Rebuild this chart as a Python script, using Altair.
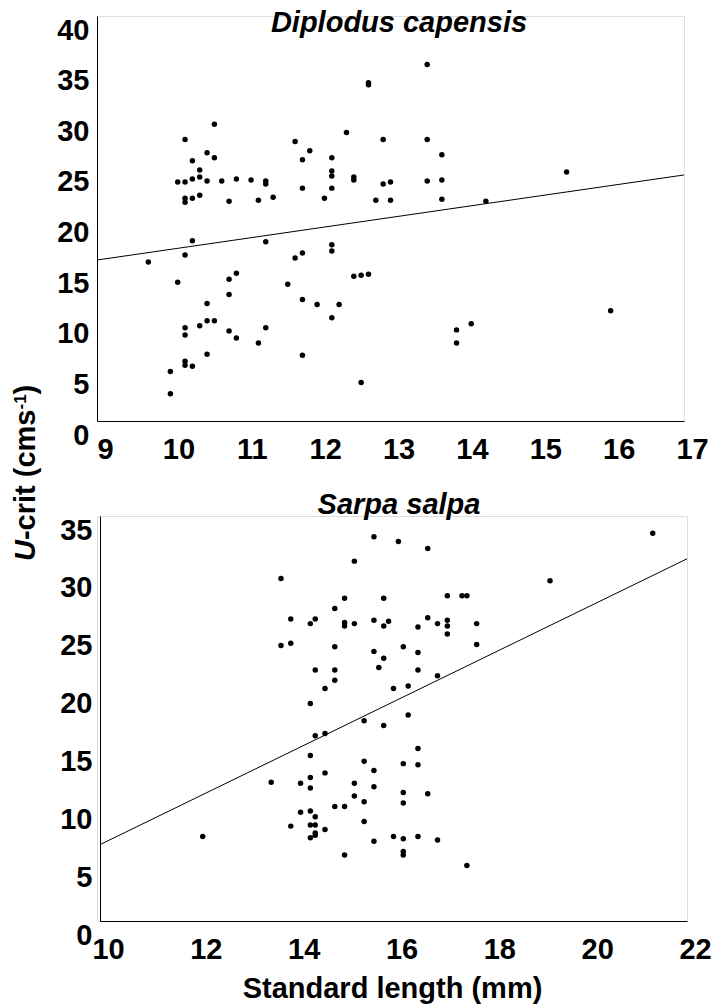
import altair as alt
import pandas as pd

# ---------------- data ----------------
# Diplodus capensis (top panel)
dc_len = [10.2, 10.6, 10.3, 10.5, 10.6, 10.4, 10.1, 10.2, 10.3, 10.4, 10.5, 10.7, 10.9, 11.1, 11.3, 11.3,
          10.2, 10.2, 10.3, 10.4, 10.8, 11.2, 11.4, 11.7, 11.9, 11.8, 11.8, 12.2, 12.2, 12.2, 12.2, 12.1,
          12.4, 12.5, 12.5, 13.5, 12.7, 12.7, 12.9, 13.5, 13.7, 12.9, 13.0, 13.5, 13.7, 12.8, 13.0, 13.7,
          14.3, 15.4,
          9.7, 10.1, 10.2, 10.3, 10.0, 10.0, 10.2, 10.2, 10.2, 10.2, 10.3, 10.4, 10.5, 10.5, 10.6, 10.5,
          10.8, 10.9, 10.8, 10.8, 10.9, 11.2, 11.3, 11.3, 11.6, 11.7, 11.8, 11.8, 12.0, 11.8, 12.2, 12.2,
          12.2, 12.3, 12.5, 12.6, 12.7, 12.6, 13.9, 13.9, 14.1, 16.0]
dc_ucrit = [27.8, 29.3, 25.7, 26.5, 26.0, 24.8, 23.6, 23.6, 23.9, 24.1, 23.7, 23.7, 23.9, 23.8, 23.7, 23.4,
            22.0, 21.6, 22.0, 22.3, 21.7, 21.8, 22.1, 27.6, 26.7, 25.8, 23.0, 26.0, 24.7, 24.2, 23.0, 22.0,
            28.5, 24.1, 23.8, 35.2, 33.4, 33.2, 27.8, 27.8, 26.3, 23.4, 23.6, 23.7, 23.8, 21.8, 21.8, 21.9,
            21.7, 24.6,
            15.7, 13.7, 16.4, 17.8, 4.9, 2.7, 9.2, 8.5, 5.9, 5.5, 5.4, 9.4, 11.6, 9.9, 9.9, 6.6,
            14.0, 14.6, 12.5, 8.9, 8.2, 7.7, 17.7, 9.2, 13.5, 16.1, 16.6, 12.0, 11.5, 6.5, 17.4, 16.8,
            10.2, 11.5, 14.3, 14.4, 14.5, 3.8, 9.0, 7.7, 9.6, 10.9]
dc_fit_x = [9, 17]
dc_fit_y = [15.9, 24.3]

# Sarpa salpa (bottom panel)
ss_len = [13.7, 13.9, 14.3, 14.4, 13.7, 13.9, 14.8, 15.0, 15.0, 15.0, 15.2, 15.2, 14.8, 14.4, 14.8, 14.8,
          14.6, 14.3, 14.4, 14.6, 14.3,
          15.6, 16.1, 16.7, 21.3, 19.2, 15.8, 17.1, 17.4, 17.5, 15.6, 15.8, 15.9, 16.5, 16.7, 16.9, 17.1,
          17.1, 17.1, 17.7, 17.7, 15.6, 15.8, 16.2, 16.5, 15.7, 16.5, 16.9, 16.0, 16.3, 16.3, 15.4, 15.8,
          16.5,
          14.3, 14.3, 14.1, 14.6, 13.5, 15.2, 15.2, 14.8, 15.0, 14.1, 14.3, 14.4, 13.9, 14.3, 14.4, 14.6,
          14.3, 14.4, 14.4, 12.1, 15.0,
          15.4, 16.2, 16.5, 15.6, 15.6, 15.4, 16.2, 16.2, 16.7, 15.4, 15.6, 16.0, 16.2, 16.5, 16.9, 16.2,
          16.2, 17.5]
ss_ucrit = [29.6, 26.1, 25.7, 26.1, 23.8, 24.0, 27.0, 27.9, 25.8, 25.5, 25.7, 31.1, 23.7, 21.7, 21.7, 20.8,
            20.1, 18.8, 16.0, 16.2, 14.3,
            33.2, 32.8, 32.2, 33.5, 29.4, 27.9, 28.1, 28.1, 28.1, 26.0, 25.5, 25.9, 25.4, 26.2, 25.7, 26.0,
            25.5, 24.8, 25.7, 23.9, 23.3, 22.7, 23.7, 23.2, 21.9, 21.7, 21.2, 20.1, 20.3, 17.8, 17.3, 16.9,
            14.9,
            12.4, 11.5, 11.9, 12.8, 12.0, 11.9, 10.8, 9.9, 9.9, 9.4, 9.5, 9.0, 8.2, 8.3, 8.3, 7.9,
            7.2, 7.4, 7.6, 7.3, 5.7,
            13.8, 13.6, 13.5, 13.0, 11.6, 10.3, 11.1, 10.2, 11.0, 8.6, 6.9, 7.3, 7.1, 7.3, 7.0, 6.0,
            5.7, 4.8]
ss_fit_x = [10, 22]
ss_fit_y = [6.6, 31.3]

dc_xticks = [9, 10, 11, 12, 13, 14, 15, 16, 17]
dc_yticks = [0, 5, 10, 15, 20, 25, 30, 35, 40]
ss_xticks = [10, 12, 14, 16, 18, 20, 22]
ss_yticks = [0, 5, 10, 15, 20, 25, 30, 35]

# ---------------- style ----------------
FONT = "Liberation Sans"
FS = 29
W, H = 587, 405


def make_axis(values, is_x, **kw):
    d = dict(values=values, format="d", grid=False, ticks=False, domain=True, domainColor="black",
             domainWidth=1, labelFont=FONT, labelFontWeight="bold", labelFontSize=FS,
             labelColor="black", labelOverlap=False, labelFlush=False, title=None)
    if is_x:
        d.update(labelPadding=14, labelOffset=8)
    else:
        d.update(labelPadding=8, labelOffset=14)
    d.update(kw)
    return alt.Axis(**d)


def panel(lens, ucrit, fx, fy, xdom, ydom, xticks, yticks, xtitle=None):
    pts = pd.DataFrame({"len": lens, "ucrit": ucrit})
    fit = pd.DataFrame({"len": fx, "ucrit": fy})
    xs = alt.Scale(domain=xdom, nice=False, zero=False)
    ys = alt.Scale(domain=ydom, nice=False, zero=False)
    if xtitle:
        xax = make_axis(xticks, True, title=xtitle, titleFont=FONT, titleFontWeight="bold",
                        titleFontSize=FS, titleColor="black", titleX=292, titleY=76,
                        titleBaseline="alphabetic", titleAlign="center")
    else:
        xax = make_axis(xticks, True)
    yax = make_axis(yticks, False)
    points = alt.Chart(pts).mark_circle(size=30, color="black", opacity=1).encode(
        x=alt.X("len:Q", scale=xs, axis=xax),
        y=alt.Y("ucrit:Q", scale=ys, axis=yax),
    )
    line = alt.Chart(fit).mark_line(color="black", strokeWidth=1).encode(
        x=alt.X("len:Q", scale=xs),
        y=alt.Y("ucrit:Q", scale=ys),
    )
    return points, line


dc_pts, dc_line = panel(dc_len, dc_ucrit, dc_fit_x, dc_fit_y, [9, 17], [0, 40],
                        dc_xticks, dc_yticks)
ss_pts, ss_line = panel(ss_len, ss_ucrit, ss_fit_x, ss_fit_y, [10, 22], [0, 35],
                        ss_xticks, ss_yticks, xtitle="Standard length (mm)")


def label(text, x, y, size=FS, style="normal", angle=0, align="center"):
    return alt.Chart(pd.DataFrame({"t": [text]})).mark_text(
        font=FONT, fontSize=size, fontWeight="bold", fontStyle=style, color="black",
        angle=angle, align=align, baseline="alphabetic",
    ).encode(text="t:N", x=alt.value(x), y=alt.value(y))


# species titles (inside plot area, top)
dc_title = label("Diplodus capensis", 302, 16, style="italic")
ss_title = label("Sarpa salpa", 299, -2, style="italic")

# y-axis title "U-crit (cms-1)" built from pieces (italic U, superscript -1)
y0 = 545.0
u_w = 0.722 * FS
mid_w = 4.501 * FS
sup_fs = 17
sup_w = 0.889 * sup_fs
yt_u = label("U", -62, y0, style="italic", angle=270, align="left")
yt_mid = label("-crit (cms", -62, y0 - u_w, angle=270, align="left")
yt_sup = label("-1", -71, y0 - u_w - mid_w, size=sup_fs, angle=270, align="left")
yt_end = label(")", -62, y0 - u_w - mid_w - sup_w, angle=270, align="left")

top = alt.layer(dc_pts, dc_line, dc_title, yt_u, yt_mid, yt_sup, yt_end).properties(width=W, height=H)
bottom = alt.layer(ss_pts, ss_line, ss_title).properties(width=W, height=H)

# 3-px spacer so that the lower panel sits slightly to the right, as in the reference
spacer = alt.Chart(pd.DataFrame({"t": [""]})).mark_text(opacity=0).encode(
    text="t:N", x=alt.value(0), y=alt.value(0)
).properties(width=3, height=H)
bottom_row = alt.hconcat(spacer, bottom, spacing=0, bounds="flush")

chart = alt.vconcat(top, bottom_row, spacing=95, bounds="flush").properties(
    padding={"left": 11, "top": 8, "right": 0, "bottom": 0}
).configure_view(stroke=None).configure(background="white")

chart.save("out.html", embed_options={"renderer": "svg", "actions": False})
